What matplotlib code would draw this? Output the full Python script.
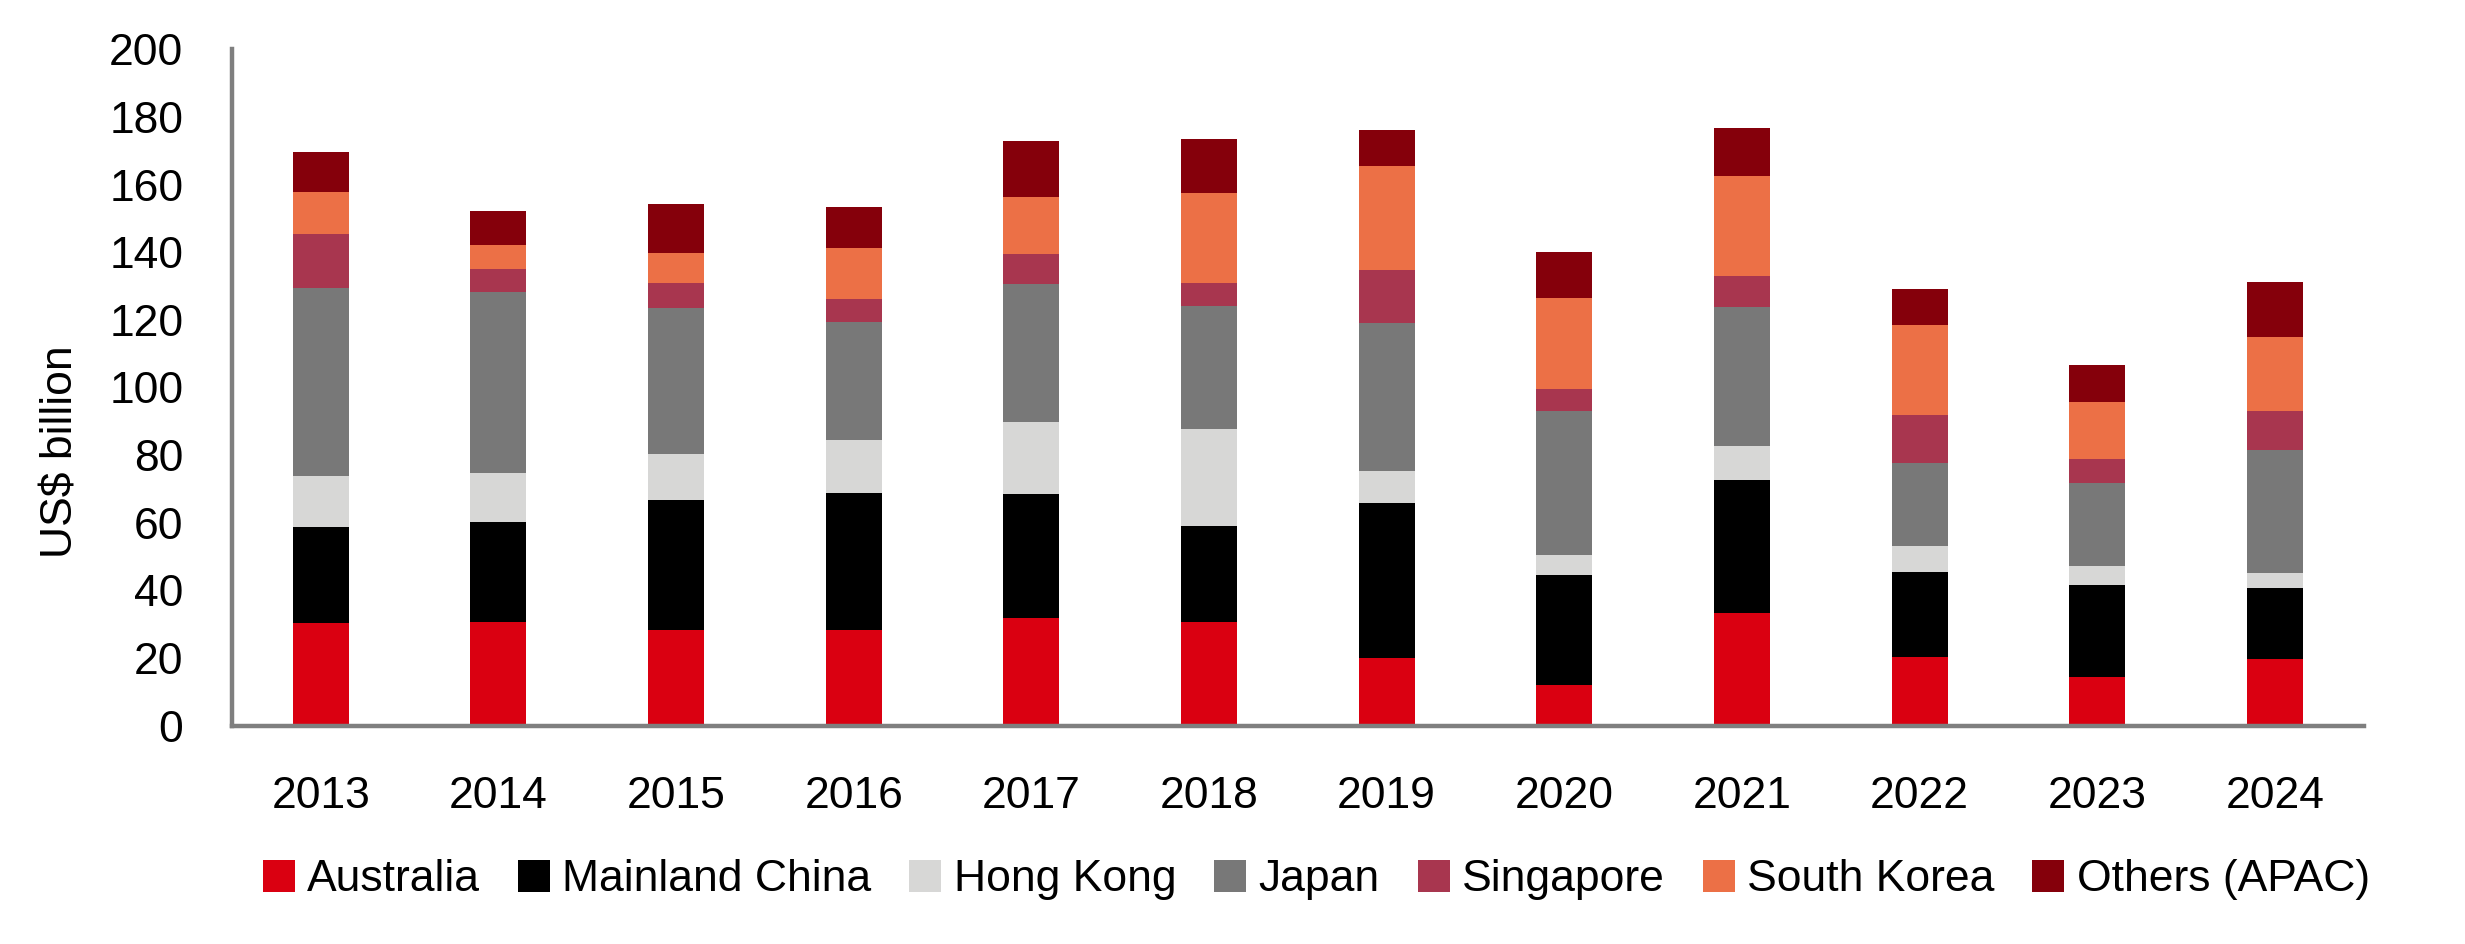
import matplotlib
matplotlib.use("Agg")
import matplotlib.pyplot as plt
import numpy as np

plt.rcParams['font.family'] = ['Liberation Sans', 'DejaVu Sans']

years = ["2013", "2014", "2015", "2016", "2017", "2018",
         "2019", "2020", "2021", "2022", "2023", "2024"]

australia = [30.3, 30.5, 28.4, 28.4, 31.7, 30.5, 19.9, 12.0, 33.3, 20.4, 14.3, 19.6]
mainland_china = [28.3, 29.6, 38.4, 40.3, 36.7, 28.4, 46.0, 32.4, 39.2, 24.9, 27.4, 21.0]
hong_kong = [15.2, 14.7, 13.6, 15.7, 21.5, 28.8, 9.4, 6.1, 10.2, 7.9, 5.5, 4.6]
japan = [55.5, 53.4, 43.0, 34.9, 40.6, 36.3, 43.8, 42.5, 41.2, 24.6, 24.5, 36.4]
singapore = [16.1, 6.9, 7.6, 6.9, 8.9, 7.0, 15.5, 6.6, 9.0, 14.2, 7.0, 11.3]
south_korea = [12.4, 7.1, 8.8, 15.0, 17.0, 26.6, 31.0, 26.9, 29.7, 26.4, 17.1, 22.1]
others = [11.9, 9.9, 14.6, 12.1, 16.6, 16.0, 10.6, 13.6, 14.2, 10.8, 10.9, 16.2]

series = [
    ("Australia", australia, "#DA0011"),
    ("Mainland China", mainland_china, "#000000"),
    ("Hong Kong", hong_kong, "#D7D7D6"),
    ("Japan", japan, "#787878"),
    ("Singapore", singapore, "#A8364F"),
    ("South Korea", south_korea, "#EC7046"),
    ("Others (APAC)", others, "#85000B"),
]

fig = plt.figure(figsize=(24.65, 9.44), dpi=100)
ax = fig.add_axes([0.0941, 0.2314, 0.8648, 0.7163])

x = np.arange(len(years))
bottom = np.zeros(len(years))
for name, vals, color in series:
    ax.bar(x, vals, width=0.315, bottom=bottom, color=color, label=name, linewidth=0)
    bottom += np.array(vals)

ax.set_xlim(-0.5, 11.5)
ax.set_ylim(0, 200)
ax.set_yticks(range(0, 201, 20))
ax.set_xticks(x)
ax.set_xticklabels(years)

for s in ["top", "right"]:
    ax.spines[s].set_visible(False)
for s in ["left", "bottom"]:
    ax.spines[s].set_color("#7F7F7F")
    ax.spines[s].set_linewidth(3.2)

ax.tick_params(axis="y", length=0, pad=35, labelsize=32)
ax.tick_params(axis="x", length=0, pad=36, labelsize=32)

fig.text(61 / 2465, 1 - 452 / 944, "US$ billion", rotation=90,
         ha="center", va="center", fontsize=32)

fig.legend(loc="center", bbox_to_anchor=(0.534, 0.068), ncol=7, frameon=False,
           fontsize=32, handlelength=0.72, handleheight=0.72, handletextpad=0.28,
           columnspacing=0.85, borderaxespad=0)

fig.savefig("out.png", dpi=100)
